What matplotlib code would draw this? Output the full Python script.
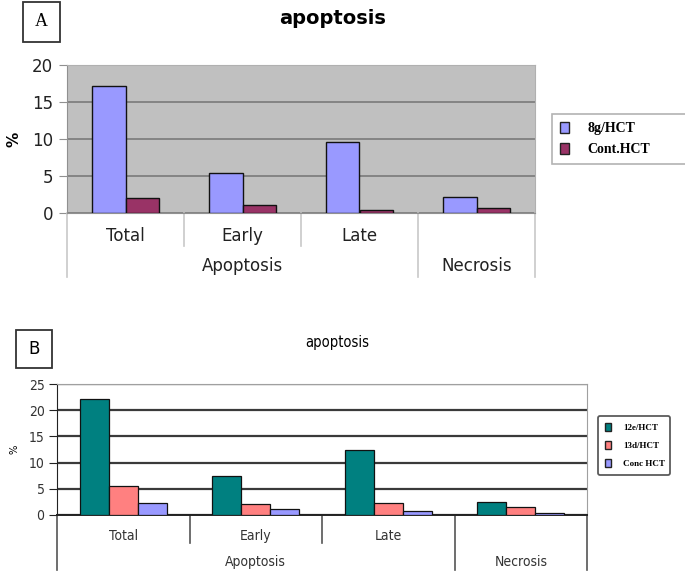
import matplotlib
matplotlib.use("Agg")
import matplotlib.pyplot as plt
from matplotlib.patches import Patch, Rectangle
import numpy as np

# data
categories = ["Total", "Early", "Late", ""]
groups = ["Apoptosis", "Necrosis"]
group_span = [(0, 2), (3, 3)]  # first / last category in each group

a_labels = ["8g/HCT", "Cont.HCT"]
a_8g = [17.2, 5.45, 9.55, 2.2]
a_cont = [2.0, 1.1, 0.35, 0.62]

b_labels = ["12e/HCT", "13d/HCT", "Conc HCT"]
b_12e = [22.2, 7.5, 12.4, 2.4]
b_13d = [5.5, 2.1, 2.2, 1.6]
b_conc = [2.2, 1.1, 0.75, 0.45]

W, H = 685, 573
fig = plt.figure(figsize=(W / 100, H / 100), dpi=100)


def fig_rect(left, top, right, bottom):
    # pixel box -> figure fraction [l, b, w, h]
    return [left / W, 1 - bottom / H, (right - left) / W, (bottom - top) / H]


def category_axis(ax, line_color, inner_drop, outer_drop, tick_font, group_y, group_font):
    n = len(categories)
    ax.set_xlim(-0.5, n - 0.5)
    ax.set_xticks(range(n))
    ax.set_xticklabels(categories, **tick_font)
    ax.tick_params(axis="x", length=0, pad=10)
    trans = ax.get_xaxis_transform()
    # separators between categories, long ones at group borders
    borders = [-0.5, n - 0.5] + [g[1] + 0.5 for g in group_span[:-1]]
    for i in range(n + 1):
        x = i - 0.5
        drop = outer_drop if x in borders else inner_drop
        ax.plot([x, x], [0, drop], transform=trans, color=line_color,
                lw=1.2, clip_on=False)
    for name, (g0, g1) in zip(groups, group_span):
        ax.text((g0 + g1) / 2, group_y, name, transform=trans,
                ha="center", va="center", **group_font)


# ---------- panel A ----------
axA = fig.add_axes(fig_rect(67, 65, 535, 213))
x = np.arange(len(categories))
wA = 0.285
axA.bar(x - wA / 2, a_8g, wA, color="#9999ff", edgecolor="#111111", lw=1.0, zorder=3)
axA.bar(x + wA / 2, a_cont, wA, color="#993366", edgecolor="#111111", lw=1.0, zorder=3)
axA.set_facecolor("#c0c0c0")
axA.set_ylim(0, 20)
axA.set_yticks([0, 5, 10, 15, 20])
axA.yaxis.grid(True, color="#7a7a7a", lw=1.2, zorder=0)
axA.set_axisbelow(True)
for s in ["top", "right"]:
    axA.spines[s].set_color("#b0b0b0")
axA.spines["left"].set_color("#909090")
axA.spines["bottom"].set_color("#909090")
axA.tick_params(axis="y", length=6, color="#909090", labelsize=12, labelcolor="#222222", pad=4)
axA.set_ylabel("%", fontsize=11, fontweight="bold")
axA.yaxis.set_label_coords(-0.098, 0.5)
category_axis(axA, "#c8c8c8", -0.22, -0.43,
              dict(fontsize=12, color="#222222"), -0.36,
              dict(fontsize=12, color="#222222"))
fig.text(333 / W, 1 - 19 / H, "apoptosis", ha="center", va="center",
         fontsize=14, fontweight="bold")

legA = fig.legend(handles=[Patch(facecolor="#9999ff", edgecolor="#222222"),
                           Patch(facecolor="#993366", edgecolor="#222222")],
                  labels=a_labels, loc="upper left",
                  bbox_to_anchor=(552 / W, 1 - 164 / H, 140 / W, 50 / H), mode="expand",
                  handlelength=0.7, handleheight=0.9, handletextpad=1.3,
                  labelspacing=0.55, borderpad=0.55, borderaxespad=0, fancybox=False,
                  prop=dict(family="Liberation Serif", weight="bold", size=10))
legA.get_frame().set_edgecolor("#a0a0a0")
legA.get_frame().set_linewidth(1.2)

# box label A
fig.add_artist(Rectangle((23 / W, 1 - 42 / H), 37 / W, 40 / H, transform=fig.transFigure,
                         facecolor="white", edgecolor="#333333", lw=1.3))
fig.text(41.5 / W, 1 - 22 / H, "A", ha="center", va="center",
         family="Liberation Serif", fontsize=13)

# ---------- panel B ----------
narrow = dict(family="DejaVu Sans", stretch="condensed")
axB = fig.add_axes(fig_rect(57, 384, 587, 515))
wB = 0.22
axB.bar(x - wB, b_12e, wB, color="#008080", edgecolor="#111111", lw=0.9, zorder=3)
axB.bar(x, b_13d, wB, color="#ff8080", edgecolor="#111111", lw=0.9, zorder=3)
axB.bar(x + wB, b_conc, wB, color="#9999ff", edgecolor="#111111", lw=0.9, zorder=3)
axB.set_ylim(0, 25)
axB.set_yticks([0, 5, 10, 15, 20, 25])
axB.yaxis.grid(True, color="#3a3a3a", lw=1.6, zorder=0)
axB.set_axisbelow(True)
for s in ["top", "right"]:
    axB.spines[s].set_color("#a0a0a0")
axB.spines["left"].set_color("#222222")
axB.spines["bottom"].set_color("#222222")
axB.spines["bottom"].set_linewidth(1.4)
axB.tick_params(axis="y", length=6, color="#222222", pad=3)
for t in axB.get_yticklabels():
    t.set_fontproperties(dict(size=10, **narrow))
    t.set_color("#333333")
axB.set_ylabel("%", fontsize=8, **narrow)
axB.yaxis.set_label_coords(-0.07, 0.5)
category_axis(axB, "#555555", -0.21, -0.42,
              dict(fontsize=10, color="#333333", **narrow), -0.36,
              dict(fontsize=10, color="#333333", **narrow))
fig.text(337 / W, 1 - 343 / H, "apoptosis", ha="center", va="center",
         fontsize=10.5, **narrow)

legB = fig.legend(handles=[Patch(facecolor="#008080", edgecolor="#222222"),
                           Patch(facecolor="#ff8080", edgecolor="#222222"),
                           Patch(facecolor="#9999ff", edgecolor="#222222")],
                  labels=b_labels, loc="upper left",
                  bbox_to_anchor=(598 / W, 1 - 482 / H, 72 / W, 66 / H), mode="expand",
                  handlelength=0.6, handleheight=1.0, handletextpad=1.4,
                  labelspacing=0.95, borderpad=0.8, borderaxespad=0, fancybox=True,
                  prop=dict(family="Liberation Serif", weight="bold", size=6.5))
legB.get_frame().set_edgecolor("#333333")
legB.get_frame().set_linewidth(1.3)

# box label B
fig.add_artist(Rectangle((16 / W, 1 - 368 / H), 36 / W, 38 / H, transform=fig.transFigure,
                         facecolor="white", edgecolor="#333333", lw=1.3))
fig.text(34 / W, 1 - 349 / H, "B", ha="center", va="center",
         family="DejaVu Sans", fontsize=12)

fig.savefig("out.png", dpi=100)
